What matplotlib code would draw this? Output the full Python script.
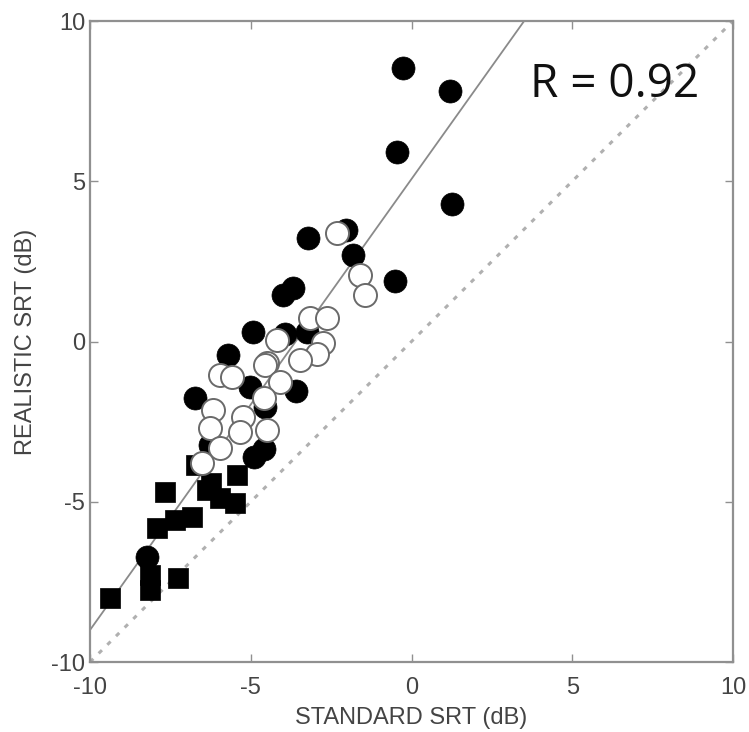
import matplotlib
matplotlib.use("Agg")
import matplotlib.pyplot as plt
import numpy as np

# Filled circles
filled_x = [-0.26, 1.20, -0.45, 1.26, -0.51, -3.22, -2.04, -1.82, -4.00, -3.69,
            -4.93, -3.93, -3.25, -5.71, -6.73, -5.02, -3.60, -4.56, -4.90, -4.60,
            -6.27, -8.23]
filled_y = [8.53, 7.82, 5.90, 4.29, 1.89, 3.23, 3.48, 2.70, 1.45, 1.67,
            0.30, 0.22, 0.30, -0.42, -1.76, -1.42, -1.55, -2.04, -3.60, -3.35,
            -3.23, -6.72]

# Filled squares
square_x = [-9.38, -8.13, -8.13, -7.26, -7.92, -7.36, -6.83, -7.67, -6.36, -5.96,
            -5.49, -5.43, -6.70, -6.25]
square_y = [-8.00, -7.30, -7.75, -7.38, -5.82, -5.57, -5.48, -4.70, -4.63, -4.88,
            -5.04, -4.17, -3.85, -4.40]

# Open circles
open_x = [-2.32, -1.60, -1.45, -3.16, -2.63, -2.75, -2.95, -3.47, -4.18, -4.50,
          -5.96, -5.58, -4.56, -4.10, -4.60, -6.17, -5.24, -6.27, -5.33, -4.50,
          -5.96, -6.52]
open_y = [3.39, 2.07, 1.45, 0.73, 0.73, -0.05, -0.40, -0.58, 0.05, -0.67,
          -1.05, -1.10, -0.73, -1.26, -1.76, -2.14, -2.36, -2.70, -2.82, -2.76,
          -3.32, -3.80]

# Regression fit and identity line
fit_slope = 1.407
fit_intercept = 5.07
r_text = "R = 0.92"

tick_vals = [-10, -5, 0, 5, 10]

fig = plt.figure(figsize=(7.49, 7.32), dpi=100)
ax = fig.add_axes([0.1202, 0.0956, 0.8584, 0.8757])

ax.set_xlim(-10, 10)
ax.set_ylim(-10, 10)

line_x = np.array([-10, 10])
ax.plot(line_x, line_x, linestyle=(0, (1.5, 2.5)), color="#b0b0b0", lw=2.2, zorder=1)
ax.plot(line_x, fit_slope * line_x + fit_intercept, color="#8a8a8a", lw=1.3, zorder=1)

ax.scatter(square_x, square_y, marker="s", s=190, c="black", edgecolors="black",
           linewidths=0.5, zorder=2)
ax.scatter(filled_x, filled_y, marker="o", s=275, c="black", edgecolors="black",
           linewidths=0.5, zorder=3)
ax.scatter(open_x, open_y, marker="o", s=275, c="white", edgecolors="#6a6a6a",
           linewidths=1.4, zorder=4)

ax.set_xticks(tick_vals)
ax.set_yticks(tick_vals)
ax.set_xticklabels([str(v) for v in tick_vals])
ax.set_yticklabels([str(v) for v in tick_vals])

fam = ["Liberation Sans", "DejaVu Sans"]
ax.tick_params(direction="in", top=True, right=True, length=6, width=1,
               color="#909090", labelsize=17, labelcolor="#444444")
ax.tick_params(axis="x", pad=10.5)
ax.tick_params(axis="y", pad=3.5)
for lab in ax.get_xticklabels() + ax.get_yticklabels():
    lab.set_family(fam)

for sp in ax.spines.values():
    sp.set_color("#909090")
    sp.set_linewidth(1.6)

ax.set_xlabel("STANDARD SRT (dB)", fontsize=17, color="#444444", family=fam, labelpad=6)
ax.set_ylabel("REALISTIC SRT (dB)", fontsize=17, color="#444444", family=fam, labelpad=10)

ax.text(0.685, 0.881, r_text, transform=ax.transAxes, fontsize=33,
        family=["Open Sans", "DejaVu Sans"], color="#111111", ha="left", va="baseline")

fig.savefig("out.png", dpi=100)
